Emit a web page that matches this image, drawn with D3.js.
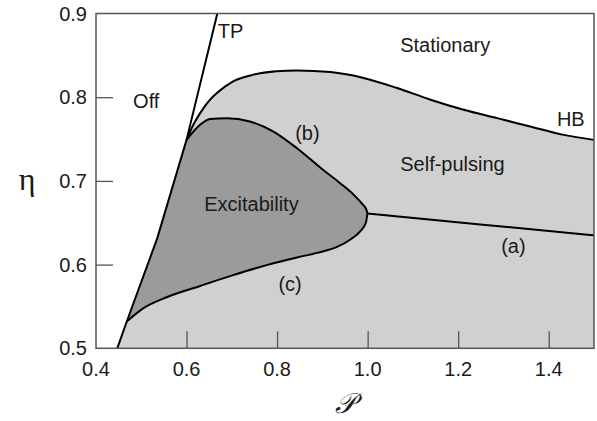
<!DOCTYPE html>
<html>
<head>
<meta charset="utf-8">
<script src="https://cdn.jsdelivr.net/npm/d3@7"></script>
<style>
  body { margin: 0; background: #fff; }
  text { font-family: "Liberation Sans", Arial, Helvetica, sans-serif; fill: #1a1a1a; }
</style>
</head>
<body>
<div id="chart"></div>
<script>
// curve data, as [P, eta]
const tpLine = [[0.447, 0.500], [0.468, 0.532], [0.535, 0.631], [0.600, 0.749], [0.668, 0.900]];
const hbCurve = [[0.600, 0.749], [0.615, 0.767], [0.630, 0.781], [0.652, 0.797], [0.667, 0.805], [0.703, 0.819],
  [0.748, 0.827], [0.799, 0.831], [0.844, 0.832], [0.918, 0.830], [0.991, 0.823], [1.065, 0.811],
  [1.139, 0.797], [1.212, 0.785], [1.286, 0.775], [1.359, 0.765], [1.433, 0.755], [1.500, 0.749]];
const bCurve = [[0.600, 0.749], [0.630, 0.767], [0.652, 0.774], [0.689, 0.775], [0.740, 0.771], [0.792, 0.759],
  [0.844, 0.739], [0.902, 0.713], [0.940, 0.697], [0.970, 0.683], [0.989, 0.672], [0.997, 0.666], [0.9995, 0.661]];
const cCurve = [[0.468, 0.532], [0.505, 0.548], [0.556, 0.561], [0.630, 0.5745], [0.703, 0.5874], [0.777, 0.5994],
  [0.844, 0.6085], [0.888, 0.6140], [0.930, 0.6205], [0.962, 0.630], [0.984, 0.640], [0.996, 0.650], [0.9995, 0.661]];
const aLine = [[0.9995, 0.661], [1.249, 0.648], [1.500, 0.635]];

const xTicks = [0.6, 0.8, 1.0, 1.2, 1.4];
const xTickLabels = ['0.4', '0.6', '0.8', '1.0', '1.2', '1.4'];
const yTicks = [0.6, 0.7, 0.8];
const yTickLabels = ['0.5', '0.6', '0.7', '0.8', '0.9'];

// region labels: text, P, eta
const regionLabels = [
  ['Off', 0.482, 0.787], ['TP', 0.669, 0.871], ['Stationary', 1.072, 0.854], ['HB', 1.418, 0.765],
  ['Self-pulsing', 1.072, 0.712], ['(b)', 0.840, 0.749], ['Excitability', 0.639, 0.664],
  ['(a)', 1.295, 0.614], ['(c)', 0.803, 0.569]
];

const W = 597, H = 421;
const x = d3.scaleLinear().domain([0.4, 1.5]).range([96, 594]);
const y = d3.scaleLinear().domain([0.5, 0.9]).range([348.3, 13.5]);

const svg = d3.select('#chart').append('svg')
  .attr('width', W).attr('height', H);

svg.append('clipPath').attr('id', 'plot')
  .append('rect')
  .attr('x', x(0.4)).attr('y', y(0.9))
  .attr('width', x(1.5) - x(0.4)).attr('height', y(0.5) - y(0.9));

const smooth = d3.line().x(d => x(d[0])).y(d => y(d[1])).curve(d3.curveMonotoneX);
const straight = d3.line().x(d => x(d[0])).y(d => y(d[1]));
const cont = s => 'L' + s.slice(1);

const g = svg.append('g').attr('clip-path', 'url(#plot)');

// light region: below TP / HB
const lightD = straight(tpLine.slice(0, 4)) + cont(smooth(hbCurve)) +
  'L' + x(1.5) + ',' + y(0.5) + 'Z';
g.append('path').attr('d', lightD).attr('fill', '#d0d0d0');

// excitability region: TP edge, (b) out to the tip, then back along (c)
const darkD = straight(tpLine.slice(1, 4)) + cont(smooth(bCurve)) +
  cont(smooth(cCurve.slice().reverse())) + 'Z';
g.append('path').attr('d', darkD).attr('fill', '#9b9b9b');

// curves
[[tpLine, straight], [hbCurve, smooth], [bCurve, smooth], [cCurve, smooth], [aLine, smooth]].forEach(([pts, gen]) => {
  g.append('path').attr('d', gen(pts))
    .attr('fill', 'none').attr('stroke', '#000').attr('stroke-width', 2)
    .attr('stroke-linejoin', 'round');
});

// frame
svg.append('rect')
  .attr('x', x(0.4)).attr('y', y(0.9))
  .attr('width', x(1.5) - x(0.4)).attr('height', y(0.5) - y(0.9))
  .attr('fill', 'none').attr('stroke', '#555').attr('stroke-width', 1.5);

// inward ticks
const xAxis = d3.axisBottom(x).tickValues(xTicks).tickSize(-17).tickFormat('');
const yAxis = d3.axisLeft(y).tickValues(yTicks).tickSize(-17).tickFormat('');
svg.append('g').attr('transform', `translate(0,${y(0.5)})`).call(xAxis)
  .call(a => a.select('.domain').remove())
  .selectAll('line').attr('stroke', '#555').attr('stroke-width', 1.3);
svg.append('g').attr('transform', `translate(${x(0.4)},0)`).call(yAxis)
  .call(a => a.select('.domain').remove())
  .selectAll('line').attr('stroke', '#555').attr('stroke-width', 1.3);

// tick labels
svg.selectAll('.xl').data(xTickLabels).enter().append('text')
  .attr('x', d => x(+d)).attr('y', 376)
  .attr('text-anchor', 'middle').attr('font-size', 20).text(d => d);
svg.selectAll('.yl').data(yTickLabels).enter().append('text')
  .attr('x', 87).attr('y', d => y(+d) + 7)
  .attr('text-anchor', 'end').attr('font-size', 20).text(d => d);

// region labels
svg.selectAll('.rl').data(regionLabels).enter().append('text')
  .attr('x', d => x(d[1])).attr('y', d => y(d[2]))
  .attr('font-size', 20).text(d => d[0]);

// axis titles
svg.append('text').attr('x', 27).attr('y', 190)
  .attr('text-anchor', 'middle')
  .style('font-family', '"Liberation Serif", "DejaVu Serif", serif')
  .attr('font-size', 32).text('η');
svg.append('text').attr('x', 345).attr('y', 413)
  .attr('text-anchor', 'middle')
  .style('font-family', '"DejaVu Serif", "Liberation Serif", serif')
  .style('font-style', 'italic')
  .attr('font-size', 28).text('𝒫');
</script>
</body>
</html>
